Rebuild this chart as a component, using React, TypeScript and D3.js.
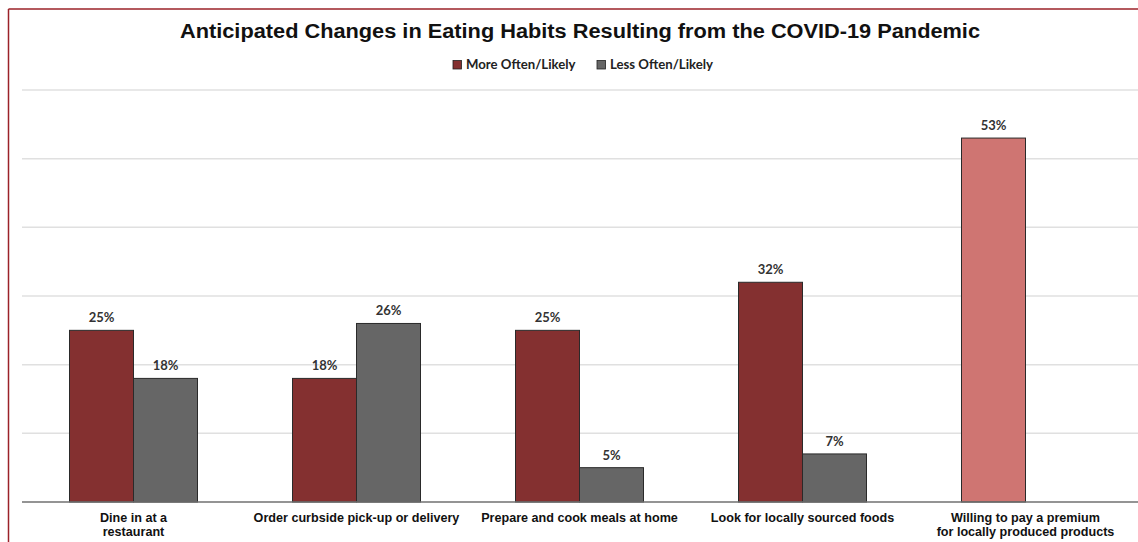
import React from "react";
import * as d3 from "d3";

const categories = [
  ["Dine in at a", "restaurant"],
  ["Order curbside pick-up or delivery"],
  ["Prepare and cook meals at home"],
  ["Look for locally sourced foods"],
  ["Willing to pay a premium", "for locally produced products"],
];
const moreOften = [25, 18, 25, 32, 53];
const lessOften: (number | null)[] = [18, 26, 5, 7, null];
const seriesNames = ["More Often/Likely", "Less Often/Likely"];
const yTicks = [0, 10, 20, 30, 40, 50, 60];

const W = 1138;
const H = 542;
const left = 22;
const right = 1137;
const top = 90;
const bottom = 502;

const colMore = "#843030";
const colLess = "#666666";
const colPremium = "#CF7572";

export default function App() {
  const x = d3
    .scaleBand<number>()
    .domain(d3.range(categories.length))
    .range([left, right]);
  const y = d3.scaleLinear().domain([0, 60]).range([bottom, top]);
  const barW = 64;
  const labelFont = "Lato, 'Open Sans', sans-serif";
  const catFont = "'Liberation Sans Narrow', 'Arial Narrow', 'Liberation Sans', sans-serif";

  return (
    <svg
      width={W}
      height={H}
      style={{ position: "absolute", left: 0, top: 0, background: "#fff" }}
    >
      <rect x={0} y={0} width={W} height={H} fill="#fff" />
      {/* frame */}
      <line x1={8.5} y1={9} x2={W} y2={9} stroke="#9B2229" strokeWidth={1.5} />
      <line x1={8.5} y1={9} x2={8.5} y2={H} stroke="#9B2229" strokeWidth={1.5} />

      <text
        x={180}
        y={38}
        fontFamily="'Liberation Sans', Arial, sans-serif"
        fontWeight="bold"
        fontSize={20}
        fill="#111"
        textLength={800}
        lengthAdjust="spacingAndGlyphs"
      >
        Anticipated Changes in Eating Habits Resulting from the COVID-19 Pandemic
      </text>

      {/* legend */}
      {seriesNames.map((n, i) => {
        const lx = i === 0 ? 453 : 597;
        return (
          <g key={n}>
            <rect x={lx} y={60.5} width={8.5} height={8.5} fill={i === 0 ? colMore : colLess} stroke="#222" strokeWidth={0.8} />
            <text x={lx + 13} y={69} fontFamily={labelFont} fontWeight="bold" fontSize={13.2} fill="#222">
              {n}
            </text>
          </g>
        );
      })}

      {/* gridlines */}
      {yTicks.slice(1).map((t) => (
        <line key={t} x1={left} x2={W} y1={y(t)} y2={y(t)} stroke="#e0e0e0" strokeWidth={1.5} />
      ))}

      {/* bars */}
      {categories.map((c, i) => {
        const cx = (x(i) as number) + x.bandwidth() / 2;
        const m = moreOften[i];
        const l = lessOften[i];
        return (
          <g key={i}>
            <rect
              x={cx - barW}
              y={y(m)}
              width={barW}
              height={bottom - y(m)}
              fill={l === null ? colPremium : colMore}
              stroke="#2a2a2a"
              strokeWidth={1}
            />
            <text x={cx - barW / 2} y={y(m) - 8} textAnchor="middle" fontFamily={labelFont} fontWeight="bold" fontSize={13} fill="#333">
              {m}%
            </text>
            {l !== null && (
              <>
                <rect x={cx} y={y(l)} width={barW} height={bottom - y(l)} fill={colLess} stroke="#2a2a2a" strokeWidth={1} />
                <text x={cx + barW / 2} y={y(l) - 8} textAnchor="middle" fontFamily={labelFont} fontWeight="bold" fontSize={13} fill="#333">
                  {l}%
                </text>
              </>
            )}
            {c.map((line, k) => (
              <text
                key={k}
                x={cx}
                y={522 + k * 14}
                textAnchor="middle"
                fontFamily={catFont}
                fontWeight="bold"
                fontSize={12.6}
                fill="#111"
              >
                {line}
              </text>
            ))}
          </g>
        );
      })}

      {/* baseline */}
      <line x1={left} x2={W} y1={bottom} y2={bottom} stroke="#707070" strokeWidth={1.5} />
    </svg>
  );
}
